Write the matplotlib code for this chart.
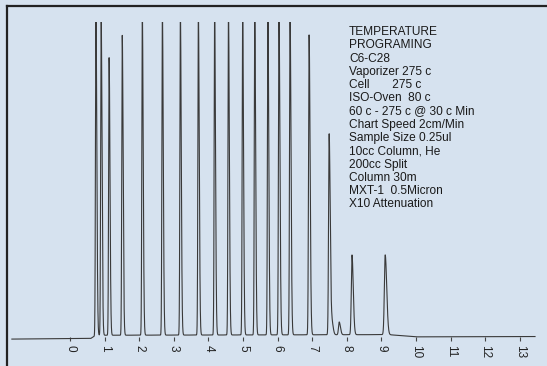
import numpy as np
import matplotlib
matplotlib.use('Agg')
import matplotlib.pyplot as plt
from matplotlib.lines import Line2D

# tiempos de retencion (min), alturas (% escala) y anchos de los picos
peak_t = [0.75, 0.90, 1.13, 1.51, 2.09, 2.67, 3.19, 3.71, 4.18, 4.58,
          4.99, 5.34, 5.72, 6.04, 6.36, 6.91, 7.49, 7.57, 7.78, 8.15, 9.11]
peak_h = [101, 101, 87, 94, 101, 101, 101, 101, 101, 101,
          101, 101, 101, 101, 101, 94, 63, 4, 4, 25, 25]
peak_w = [0.014, 0.014, 0.014, 0.014, 0.014, 0.014, 0.014, 0.014, 0.014, 0.014,
          0.014, 0.014, 0.014, 0.015, 0.015, 0.016, 0.017, 0.02, 0.02, 0.02, 0.024]

# linea base (deriva)
base_t = [-1.68, 0.60, 0.75, 9.2, 10.0, 13.44]
base_v = [0.6, 0.8, 1.8, 2.0, 1.3, 1.4]

ticks = list(range(0, 14))
info = ("TEMPERATURE\nPROGRAMING\nC6-C28\nVaporizer 275 c\nCell       275 c\n"
        "ISO-Oven  80 c\n60 c - 275 c @ 30 c Min\nChart Speed 2cm/Min\n"
        "Sample Size 0.25ul\n10cc Column, He\n200cc Split\nColumn 30m\n"
        "MXT-1  0.5Micron\nX10 Attenuation")

bg = '#d6e2ef'
W, H = 547, 366
fig = plt.figure(figsize=(W / 100, H / 100), dpi=100, facecolor=bg)

# ejes: x de 7 a 547 px, y de 22 a 341 px
ax = fig.add_axes([7 / W, 1 - 341 / H, 540 / W, 319 / H], facecolor=bg)
ax.set_xlim((7 - 70) / 34.6, (547 - 70) / 34.6)
ax.set_ylim(0, 100)

t = np.linspace(base_t[0], base_t[-1], 20000)
y = np.interp(t, base_t, base_v)
for c, h, w in zip(peak_t, peak_h, peak_w):
    d = t - c
    # pico con cola hacia la derecha
    y += h * np.where(d < 0, np.exp(-0.5 * (d / w) ** 2),
                      np.exp(-0.5 * (d / (1.8 * w)) ** 2))
ax.plot(t, y, color='#3a3a3a', lw=0.8)

for s in ax.spines.values():
    s.set_visible(False)
ax.set_yticks([])
ax.set_xticks(ticks)
ax.set_xticklabels([str(k) for k in ticks], rotation=-90, fontsize=8.5,
                   family='Liberation Sans', color='#222222')
ax.tick_params(axis='x', direction='in', length=3, width=0.8, color='#444444', pad=3)

ax.text(349 / W, 1 - 26 / H, info, transform=fig.transFigure, fontsize=8.6,
        family='Liberation Sans', color='#1a1a1a', va='top', ha='left',
        linespacing=1.14)

# marco superior e izquierdo
fig.add_artist(Line2D([7 / W, 7 / W], [0, 1 - 6 / H], transform=fig.transFigure,
                      color='#222222', lw=1.6))
fig.add_artist(Line2D([7 / W, 1], [1 - 6 / H, 1 - 6 / H], transform=fig.transFigure,
                      color='#222222', lw=1.6))

fig.savefig('out.png', dpi=100, facecolor=bg)
